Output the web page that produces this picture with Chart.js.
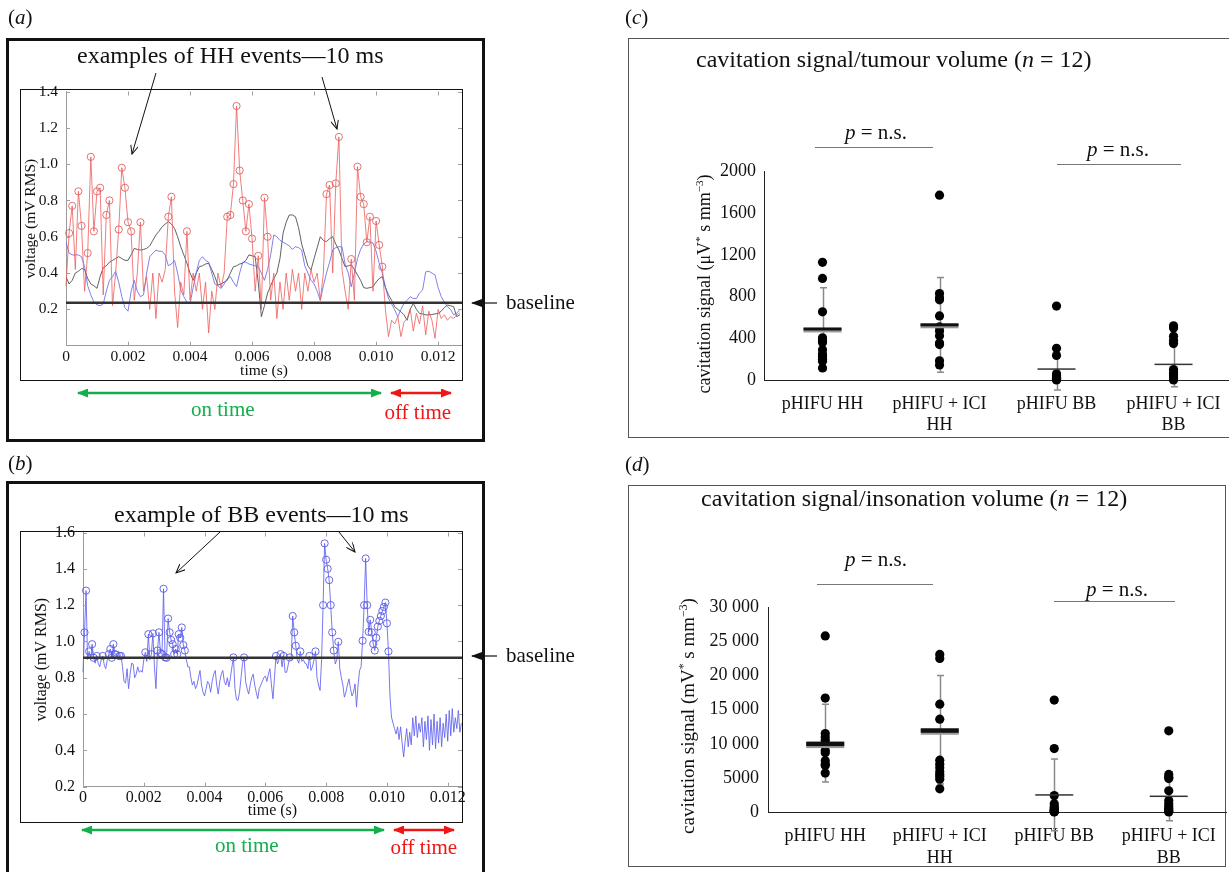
<!DOCTYPE html>
<html>
<head>
<meta charset="utf-8">
<script src="https://cdn.jsdelivr.net/npm/chart.js@4.4.1/dist/chart.umd.min.js"></script>
<style>
  body { margin: 0; background: #fff; font-family: 'Liberation Serif', 'Times New Roman', serif; }
  #page { position: relative; width: 1229px; height: 872px; overflow: hidden; background: #fff; }
  .box { position: absolute; box-sizing: border-box; }
  .t { position: absolute; white-space: nowrap; color: #111; }
  .rot { position: absolute; white-space: nowrap; color: #111; transform: translate(-50%, -50%) rotate(-90deg); }
  .rot sup { font-size: 62%; line-height: 0; }
  canvas { position: absolute; }
  svg { position: absolute; left: 0; top: 0; }
  .hline { position: absolute; height: 0; border-top: 1.5px solid #777; }
</style>
</head>
<body>
<div id="page">
  <div class="box" style="left:6px;top:38px;width:479px;height:404px;border:3px solid #111;"></div>
  <div class="box" style="left:6px;top:481px;width:479px;height:420px;border:3px solid #111;"></div>
  <div class="box" style="left:628px;top:38px;width:640px;height:400px;border:1px solid #555;"></div>
  <div class="box" style="left:628px;top:485px;width:598px;height:382px;border:1px solid #555;"></div>

  <canvas id="chartA" width="460" height="305" style="left:20px;top:75px;"></canvas>
  <canvas id="chartB" width="460" height="307" style="left:20px;top:515px;"></canvas>
  <canvas id="chartC" width="560" height="277" style="left:688px;top:158px;"></canvas>
  <canvas id="chartD" width="572" height="272" style="left:672px;top:595px;"></canvas>

  <div class="box" style="left:20px;top:89px;width:443px;height:292px;border:1.5px solid #111;"></div>
  <div class="box" style="left:20px;top:531px;width:443px;height:292px;border:1.5px solid #111;"></div>

  <div class="hline" style="left:815px;top:147px;width:118px;"></div>
  <div class="hline" style="left:1057px;top:164px;width:124px;"></div>
  <div class="hline" style="left:817px;top:584px;width:116px;"></div>
  <div class="hline" style="left:1054px;top:601px;width:121px;"></div>

  <svg width="1229" height="872">
    <defs>
      <marker id="hk" markerWidth="10" markerHeight="8" refX="9" refY="4" orient="auto" markerUnits="userSpaceOnUse">
        <path d="M0,0 L9,4 L0,8" fill="none" stroke="#111" stroke-width="1"/>
      </marker>
      <marker id="hb" markerWidth="11" markerHeight="8" refX="10" refY="4" orient="auto" markerUnits="userSpaceOnUse">
        <path d="M0,0 L11,4 L0,8 z" fill="#111"/>
      </marker>
      <marker id="hg" markerWidth="11" markerHeight="9" refX="10" refY="4.5" orient="auto-start-reverse" markerUnits="userSpaceOnUse">
        <path d="M0,0 L11,4.5 L0,9 z" fill="#14ae4c"/>
      </marker>
      <marker id="hr" markerWidth="11" markerHeight="9" refX="10" refY="4.5" orient="auto-start-reverse" markerUnits="userSpaceOnUse">
        <path d="M0,0 L11,4.5 L0,9 z" fill="#f01616"/>
      </marker>
    </defs>
    <line x1="156" y1="73" x2="132" y2="154" stroke="#111" stroke-width="1" marker-end="url(#hk)"/>
    <line x1="322" y1="77" x2="337" y2="129" stroke="#111" stroke-width="1" marker-end="url(#hk)"/>
    <line x1="497" y1="303" x2="472" y2="303" stroke="#111" stroke-width="1.2" marker-end="url(#hb)"/>
    <line x1="78" y1="393" x2="381" y2="393" stroke="#14ae4c" stroke-width="2.5" marker-start="url(#hg)" marker-end="url(#hg)"/>
    <line x1="391" y1="393" x2="451" y2="393" stroke="#f01616" stroke-width="2.5" marker-start="url(#hr)" marker-end="url(#hr)"/>

    <line x1="220" y1="532" x2="176" y2="573" stroke="#111" stroke-width="1" marker-end="url(#hk)"/>
    <line x1="339" y1="532" x2="355" y2="552" stroke="#111" stroke-width="1" marker-end="url(#hk)"/>
    <line x1="497" y1="656" x2="472" y2="656" stroke="#111" stroke-width="1.2" marker-end="url(#hb)"/>
    <line x1="82" y1="830" x2="384" y2="830" stroke="#14ae4c" stroke-width="2.5" marker-start="url(#hg)" marker-end="url(#hg)"/>
    <line x1="394" y1="830" x2="454" y2="830" stroke="#f01616" stroke-width="2.5" marker-start="url(#hr)" marker-end="url(#hr)"/>
  </svg>
</div>

<script>
// ---- (a) HH traces, sampled every 0.1 ms
const stepA = 0.0001;
const hhRedA = [
  0.33, 0.62, 0.77, 0.42, 0.85, 0.66, 0.30, 0.51, 1.04, 0.63,
  0.85, 0.87, 0.28, 0.72, 0.80, 0.22, 0.40, 0.64, 0.98, 0.87,
  0.68, 0.63, 0.25, 0.40, 0.68, 0.30, 0.38, 0.20, 0.40, 0.15,
  0.40, 0.35, 0.42, 0.71, 0.82, 0.30, 0.10, 0.35, 0.28, 0.63,
  0.25, 0.40, 0.30, 0.40, 0.20, 0.35, 0.07, 0.30, 0.20, 0.40,
  0.32, 0.40, 0.71, 0.72, 0.89, 1.32, 0.965, 0.80, 0.63, 0.78,
  0.59, 0.30, 0.495, 0.20, 0.815, 0.60, 0.25, 0.40, 0.15, 0.35,
  0.20, 0.40, 0.25, 0.42, 0.30, 0.40, 0.20, 0.40, 0.30, 0.42,
  0.35, 0.40, 0.25, 0.40, 0.835, 0.885, 0.40, 0.894, 1.15, 0.42,
  0.30, 0.20, 0.477, 0.25, 0.986, 0.82, 0.78, 0.57, 0.71, 0.30,
  0.687, 0.555, 0.435, 0.20, 0.05, 0.14, 0.12, 0.16, 0.05, 0.13,
  0.15, 0.20, 0.08, 0.18, 0.12, 0.22, 0.06, 0.19, 0.14, 0.04,
  0.20, 0.15, 0.17, 0.14, 0.16, 0.15, 0.17, 0.18
];
const hhBlueA = [
  0.57, 0.51, 0.50, 0.50, 0.50, 0.49, 0.435, 0.33, 0.28, 0.24,
  0.225, 0.22, 0.23, 0.30, 0.36, 0.38, 0.41, 0.35, 0.27, 0.21,
  0.19, 0.30, 0.36, 0.30, 0.27, 0.28, 0.40, 0.49, 0.51, 0.527,
  0.52, 0.52, 0.50, 0.44, 0.45, 0.47, 0.40, 0.31, 0.27, 0.24,
  0.23, 0.32, 0.40, 0.47, 0.49, 0.47, 0.46, 0.40, 0.34, 0.33,
  0.315, 0.34, 0.37, 0.38, 0.35, 0.325, 0.40, 0.46, 0.46, 0.45,
  0.445, 0.44, 0.435, 0.40, 0.36, 0.42, 0.50, 0.61, 0.60, 0.58,
  0.57, 0.56, 0.55, 0.53, 0.545, 0.54, 0.527, 0.44, 0.40, 0.36,
  0.34, 0.30, 0.25, 0.33, 0.40, 0.46, 0.527, 0.54, 0.545, 0.545,
  0.45, 0.40, 0.325, 0.40, 0.48, 0.53, 0.56, 0.573, 0.57, 0.565,
  0.52, 0.454, 0.40, 0.325, 0.26, 0.23, 0.197, 0.16, 0.20, 0.233,
  0.25, 0.27, 0.26, 0.26, 0.29, 0.307, 0.407, 0.41, 0.40, 0.39,
  0.32, 0.27, 0.24, 0.215, 0.20, 0.17, 0.18, 0.197
];
const hhGrayA = [
  0.38, 0.34, 0.36, 0.40, 0.41, 0.425, 0.42, 0.37, 0.34, 0.33,
  0.316, 0.38, 0.43, 0.44, 0.46, 0.47, 0.48, 0.49, 0.48, 0.47,
  0.47, 0.50, 0.536, 0.53, 0.527, 0.53, 0.536, 0.55, 0.58, 0.61,
  0.63, 0.655, 0.67, 0.683, 0.67, 0.646, 0.60, 0.545, 0.50, 0.454,
  0.40, 0.36, 0.40, 0.435, 0.44, 0.45, 0.454, 0.42, 0.38, 0.334,
  0.34, 0.35, 0.36, 0.40, 0.435, 0.44, 0.45, 0.454, 0.47, 0.50,
  0.495, 0.49, 0.35, 0.16, 0.22, 0.29, 0.33, 0.37, 0.40, 0.48,
  0.62, 0.68, 0.72, 0.72, 0.71, 0.65, 0.56, 0.50, 0.44, 0.417,
  0.48, 0.54, 0.60, 0.58, 0.573, 0.59, 0.60, 0.56, 0.527, 0.48,
  0.435, 0.44, 0.445, 0.42, 0.39, 0.36, 0.32, 0.316, 0.32, 0.325,
  0.35, 0.37, 0.38, 0.32, 0.28, 0.25, 0.215, 0.20, 0.187, 0.17,
  0.14, 0.20, 0.233, 0.20, 0.178, 0.175, 0.17, 0.17, 0.172, 0.175,
  0.178, 0.19, 0.21, 0.224, 0.22, 0.215, 0.16, 0.17
];
const hhBaseline = 0.237;

// ---- (b) BB trace, sampled every 0.05 ms
const stepB = 0.00005;
const bbBlueB = [
  0.83, 1.05, 1.28, 0.90, 0.945, 0.90, 0.985, 0.91, 0.88, 0.92,
  0.88, 0.86, 0.90, 0.92, 0.87, 0.85, 0.90, 0.93, 0.958, 0.91,
  0.985, 0.93, 0.927, 0.90, 0.92, 0.92, 0.86, 0.78, 0.77, 0.85,
  0.74, 0.82, 0.88, 0.876, 0.80, 0.82, 0.86, 0.83, 0.84, 0.83,
  0.90, 0.94, 0.89, 1.04, 0.90, 0.93, 1.044, 0.86, 0.74, 0.95,
  1.05, 0.936, 0.93, 1.29, 0.912, 0.91, 1.126, 1.05, 1.008, 0.985,
  0.93, 0.958, 0.93, 1.04, 1.02, 1.077, 0.98, 0.95, 0.90, 0.86,
  0.86, 0.80, 0.76, 0.78, 0.74, 0.76, 0.80, 0.84, 0.76, 0.72,
  0.70, 0.74, 0.78, 0.766, 0.72, 0.78, 0.82, 0.84, 0.76, 0.71,
  0.78, 0.82, 0.84, 0.78, 0.76, 0.80, 0.75, 0.80, 0.86, 0.912,
  0.74, 0.68, 0.675, 0.72, 0.80, 0.88, 0.912, 0.78, 0.74, 0.71,
  0.76, 0.80, 0.82, 0.76, 0.72, 0.684, 0.74, 0.76, 0.78, 0.80,
  0.81, 0.78, 0.82, 0.85, 0.76, 0.684, 0.80, 0.92, 0.876, 0.90,
  0.93, 0.86, 0.92, 0.83, 0.83, 0.87, 0.912, 0.90, 1.14, 1.05,
  0.976, 0.90, 0.88, 0.945, 0.89, 0.90, 0.88, 0.876, 0.85, 0.92,
  0.84, 0.86, 0.90, 0.945, 0.80, 0.76, 0.73, 0.90, 1.20, 1.54,
  1.45, 1.40, 1.338, 1.20, 1.05, 0.95, 0.876, 0.90, 0.998, 0.85,
  0.80, 0.76, 0.693, 0.72, 0.76, 0.794, 0.74, 0.70, 0.72, 0.766,
  0.638, 0.76, 0.84, 0.86, 1.004, 1.20, 1.457, 1.20, 1.053, 1.119,
  1.05, 0.986, 0.95, 1.02, 1.082, 1.113, 1.14, 1.168, 1.19, 1.214,
  1.10, 0.945, 0.70, 0.584, 0.55, 0.52, 0.49, 0.53, 0.46, 0.53,
  0.44, 0.364, 0.45, 0.52, 0.42, 0.50, 0.43, 0.58, 0.48, 0.59,
  0.47, 0.55, 0.50, 0.58, 0.42, 0.56, 0.46, 0.59, 0.40, 0.57,
  0.43, 0.60, 0.41, 0.56, 0.44, 0.58, 0.42, 0.55, 0.47, 0.60,
  0.45, 0.62, 0.48, 0.63, 0.50, 0.58, 0.52, 0.62, 0.50, 0.55
];
const bbBaseline = 0.91;

const timeTicks = [0, 0.002, 0.004, 0.006, 0.008, 0.010, 0.012];
const voltTicksA = [0.2, 0.4, 0.6, 0.8, 1.0, 1.2, 1.4];
const voltTicksB = [0.2, 0.4, 0.6, 0.8, 1.0, 1.2, 1.4, 1.6];

// ---- (c) / (d) groups
const groups = [['pHIFU HH'], ['pHIFU + ICI', 'HH'], ['pHIFU BB'], ['pHIFU + ICI', 'BB']];

const tumHH = [1130, 975, 655, 405, 385, 360, 290, 250, 225, 200, 180, 115];
const tumIciHH = [1775, 830, 790, 770, 615, 510, 470, 425, 355, 340, 185, 145];
const tumBB = [710, 305, 235, 60, 40, 30, 25, 20, 15, 10, 5, 0];
const tumIciBB = [520, 500, 420, 380, 350, 100, 70, 50, 30, 20, 10, 0];
const tumMean = [490, 530, 105, 150];
const tumSd = [395, 455, 200, 215];
const tumTicks = [0, 400, 800, 1200, 1600, 2000];

const insHH = [25800, 16700, 11500, 11000, 10500, 10000, 9000, 8700, 7500, 7000, 6800, 5700];
const insIciHH = [23100, 22500, 15800, 13600, 7600, 7000, 6500, 5900, 5500, 5200, 4800, 3400];
const insBB = [16400, 9300, 2400, 1200, 800, 600, 400, 300, 200, 100, 50, 0];
const insIciBB = [11900, 5500, 5100, 4900, 3100, 1700, 1200, 800, 500, 300, 100, 0];
const insMean = [10100, 12050, 2500, 2300];
const insSd = [5700, 7950, 5250, 3600];
const insTicks = [0, 5000, 10000, 15000, 20000, 25000, 30000];

Chart.defaults.font.family = "'Liberation Serif', 'Times New Roman', serif";
Chart.defaults.color = '#111';

const page = document.getElementById('page');

function put(html, x, base, size, align, color) {
  const d = document.createElement('div');
  d.className = 't';
  d.innerHTML = html;
  d.style.fontSize = size + 'px';
  d.style.lineHeight = size + 'px';
  d.style.top = (base - 0.8375 * size) + 'px';
  if (color) d.style.color = color;
  page.appendChild(d);
  d.style.left = (align === 'center' ? x - d.offsetWidth / 2 : x) + 'px';
}

function putRot(html, cx, cy, size) {
  const d = document.createElement('div');
  d.className = 'rot';
  d.innerHTML = html;
  d.style.fontSize = size + 'px';
  d.style.left = cx + 'px';
  d.style.top = cy + 'px';
  page.appendChild(d);
}

const pts = (vals, dt) => vals.map((v, i) => ({ x: i * dt, y: v }));
const setTicks = vals => s => { s.ticks = vals.map(v => ({ value: v })); };
const fixX = h => s => { s.height = h; s.paddingLeft = 0; s.paddingRight = 0; };
const fixY = w => s => { s.width = w; s.paddingTop = 0; s.paddingBottom = 0; };

// small inward tick marks on all four sides of the trace plots
const frameTicks = {
  id: 'frameTicks',
  afterDraw(chart) {
    const { ctx, chartArea: a, scales: { x, y } } = chart;
    ctx.save();
    ctx.strokeStyle = '#a0a0a0';
    ctx.lineWidth = 1;
    ctx.beginPath();
    x.ticks.forEach(t => {
      const px = Math.round(x.getPixelForValue(t.value)) + 0.5;
      ctx.moveTo(px, a.top); ctx.lineTo(px, a.top + 4);
      ctx.moveTo(px, a.bottom); ctx.lineTo(px, a.bottom - 4);
    });
    y.ticks.forEach(t => {
      const py = Math.round(y.getPixelForValue(t.value)) + 0.5;
      ctx.moveTo(a.left, py); ctx.lineTo(a.left + 4, py);
      ctx.moveTo(a.right, py); ctx.lineTo(a.right - 4, py);
    });
    ctx.stroke();
    ctx.restore();
  }
};

function makeBaseline(value) {
  return {
    id: 'baseline',
    afterDatasetsDraw(chart) {
      const { ctx, chartArea: a, scales: { y } } = chart;
      const py = y.getPixelForValue(value);
      ctx.save();
      ctx.strokeStyle = '#333';
      ctx.lineWidth = 2.5;
      ctx.beginPath();
      ctx.moveTo(a.left, py);
      ctx.lineTo(a.right, py);
      ctx.stroke();
      ctx.restore();
    }
  };
}

function makeMeanSd(means, sds, thick) {
  return {
    id: 'meanSd',
    beforeDatasetsDraw(chart) {
      const { ctx, scales: { x, y } } = chart;
      ctx.save();
      ctx.strokeStyle = '#8a8a8a';
      ctx.lineWidth = 1.5;
      means.forEach((m, i) => {
        const px = Math.round(x.getPixelForValue(i)) + 0.5;
        const top = y.getPixelForValue(m + sds[i]);
        const bot = y.getPixelForValue(m - sds[i]);
        ctx.beginPath();
        ctx.moveTo(px, top); ctx.lineTo(px, bot);
        ctx.moveTo(px - 3.5, top); ctx.lineTo(px + 3.5, top);
        ctx.moveTo(px - 3.5, bot); ctx.lineTo(px + 3.5, bot);
        ctx.stroke();
      });
      ctx.restore();
    },
    afterDatasetsDraw(chart) {
      const { ctx, scales: { x, y } } = chart;
      ctx.save();
      means.forEach((m, i) => {
        const px = x.getPixelForValue(i);
        const py = y.getPixelForValue(m);
        if (i < 2) {
          ctx.fillStyle = '#9a9a9a';
          ctx.fillRect(px - 19, py - 1, 38, thick + 1.5);
          ctx.fillStyle = '#111';
          ctx.fillRect(px - 19, py - 1.5, 38, thick);
        } else {
          ctx.fillStyle = '#333';
          ctx.fillRect(px - 19, py - 0.75, 38, 1.5);
        }
      });
      ctx.restore();
    }
  };
}

function eventRadius(thr, tEnd) {
  return c => (c.raw && c.raw.y >= thr && c.raw.x < tEnd) ? 3.6 : 0;
}

function traceOptions(o) {
  return {
    responsive: false,
    animation: false,
    events: [],
    devicePixelRatio: 1,
    layout: { padding: { top: o.padTop, right: 18, left: 0, bottom: 0 } },
    plugins: { legend: { display: false }, tooltip: { enabled: false } },
    scales: {
      x: {
        type: 'linear', min: 0, max: o.xMax,
        afterBuildTicks: setTicks(timeTicks),
        afterFit: fixX(o.xH),
        ticks: { padding: o.xPad, autoSkip: false, maxRotation: 0, font: { size: o.fs }, callback: v => v === 0 ? '0' : v.toFixed(3) },
        grid: { display: false, drawTicks: false },
        border: { color: '#9a9a9a' },
        title: { display: true, text: 'time (s)', font: { size: o.fs }, padding: { top: 0, bottom: o.titleBottom } }
      },
      y: {
        min: o.yMin, max: o.yMax,
        afterBuildTicks: setTicks(o.yTicks),
        afterFit: fixY(o.yW),
        ticks: { padding: 8, autoSkip: false, font: { size: o.fs }, callback: v => v.toFixed(1) },
        grid: { display: false, drawTicks: false },
        border: { color: '#9a9a9a' },
        title: { display: true, text: 'voltage (mV RMS)', font: { size: o.fs }, padding: { top: o.titleTop, bottom: 0 } }
      }
    }
  };
}

// (a)
new Chart(document.getElementById('chartA'), {
  type: 'line',
  data: {
    datasets: [
      { data: pts(hhRedA, stepA), borderColor: 'rgba(238,92,92,0.8)', borderWidth: 1, tension: 0,
        pointRadius: eventRadius(0.43, 0.0103), pointBorderColor: 'rgba(226,90,90,0.85)',
        pointBackgroundColor: 'rgba(255,255,255,0)', pointBorderWidth: 1, clip: false },
      { data: pts(hhBlueA, stepA), borderColor: 'rgba(96,96,232,0.8)', borderWidth: 1, pointRadius: 0, tension: 0 },
      { data: pts(hhGrayA, stepA), borderColor: 'rgba(70,70,70,0.85)', borderWidth: 1, pointRadius: 0, tension: 0 }
    ]
  },
  options: traceOptions({ padTop: 16.5, xMax: 0.01277, xH: 34.3, xPad: 2, fs: 15.5, titleBottom: 0,
    yMin: 0, yMax: 1.4, yTicks: voltTicksA, yW: 46, titleTop: 1.7 }),
  plugins: [frameTicks, makeBaseline(hhBaseline)]
});

// (b)
new Chart(document.getElementById('chartB'), {
  type: 'line',
  data: {
    datasets: [
      { data: pts(bbBlueB, stepB), borderColor: 'rgba(96,96,240,0.85)', borderWidth: 1, tension: 0,
        pointRadius: eventRadius(0.91, 0.0101), pointBorderColor: 'rgba(90,90,230,0.9)',
        pointBackgroundColor: 'rgba(255,255,255,0)', pointBorderWidth: 1, clip: false }
    ]
  },
  options: traceOptions({ padTop: 17.5, xMax: 0.01247, xH: 35.3, xPad: 1, fs: 16, titleBottom: 1.5,
    yMin: 0.2, yMax: 1.6, yTicks: voltTicksB, yW: 63, titleTop: 12.4 }),
  plugins: [frameTicks, makeBaseline(bbBaseline)]
});

function dotOptions(o) {
  return {
    responsive: false,
    animation: false,
    events: [],
    devicePixelRatio: 1,
    layout: { padding: { top: o.padTop, right: o.padRight, left: 0, bottom: 0 } },
    plugins: { legend: { display: false }, tooltip: { enabled: false } },
    scales: {
      x: {
        type: 'linear', min: -0.5, max: o.xMax,
        afterBuildTicks: setTicks([0, 1, 2, 3]),
        afterFit: fixX(55),
        ticks: { padding: o.xPad, autoSkip: false, maxRotation: 0, font: { size: 18 }, callback: v => groups[v] },
        grid: { display: false, drawTicks: false },
        border: { color: '#222', width: 1 }
      },
      y: {
        min: 0, max: o.yMax,
        afterBuildTicks: setTicks(o.yTicks),
        afterFit: fixY(o.yW),
        ticks: { padding: o.yPad, autoSkip: false, font: { size: 18 }, callback: o.fmt },
        grid: { display: false, drawTicks: false },
        border: { color: '#222', width: 1 }
      }
    }
  };
}

function dotSets(lists) {
  return lists.map((vals, i) => ({
    data: vals.map(v => ({ x: i, y: v })),
    pointRadius: 4.6,
    pointBackgroundColor: '#000',
    pointBorderColor: '#000',
    pointBorderWidth: 0,
    showLine: false,
    clip: false
  }));
}

// (c)
new Chart(document.getElementById('chartC'), {
  type: 'scatter',
  data: { datasets: dotSets([tumHH, tumIciHH, tumBB, tumIciBB]) },
  options: dotOptions({ padTop: 13.7, padRight: 19, xMax: 3.474, xPad: 13, yMax: 2000, yTicks: tumTicks,
    yW: 76, yPad: 8, fmt: v => String(v) }),
  plugins: [makeMeanSd(tumMean, tumSd, 3)]
});

// (d)
new Chart(document.getElementById('chartD'), {
  type: 'scatter',
  data: { datasets: dotSets([insHH, insIciHH, insBB, insIciBB]) },
  options: dotOptions({ padTop: 12.3, padRight: 18, xMax: 3.5, xPad: 13.5, yMax: 30000, yTicks: insTicks,
    yW: 96, yPad: 9, fmt: v => v >= 10000 ? String(v).replace(/(\d\d)(\d{3})$/, '$1 $2') : String(v) }),
  plugins: [makeMeanSd(insMean, insSd, 4.5)]
});

// text
put('(<i>a</i>)', 8, 24.5, 21);
put('(<i>b</i>)', 8, 471, 21);
put('(<i>c</i>)', 625, 24.5, 21);
put('(<i>d</i>)', 625, 472, 21);

put('examples of HH events—10 ms', 230.5, 63.5, 24, 'center');
put('baseline', 506, 310, 21);
put('on time', 223, 416.5, 21, 'center', '#14ae4c');
put('off time', 418, 420, 21, 'center', '#f01616');

put('example of BB events—10 ms', 261.5, 522, 24, 'center');
put('baseline', 506, 663, 21);
put('on time', 247, 853, 21, 'center', '#14ae4c');
put('off time', 424, 855, 21, 'center', '#f01616');

put('cavitation signal/tumour volume (<i>n</i> = 12)', 893.5, 67.5, 24, 'center');
put('<i>p</i> = n.s.', 876, 140, 21, 'center');
put('<i>p</i> = n.s.', 1118, 156.5, 21, 'center');
putRot('cavitation signal (μV<sup>*</sup> s mm<sup>−3</sup>)', 704, 284, 18);

put('cavitation signal/insonation volume (<i>n</i> = 12)', 914, 506.5, 24, 'center');
put('<i>p</i> = n.s.', 876, 566.5, 21, 'center');
put('<i>p</i> = n.s.', 1117, 596.5, 21, 'center');
putRot('cavitation signal (mV<sup>*</sup> s mm<sup>−3</sup>)', 688, 716, 19);
</script>
</body>
</html>
